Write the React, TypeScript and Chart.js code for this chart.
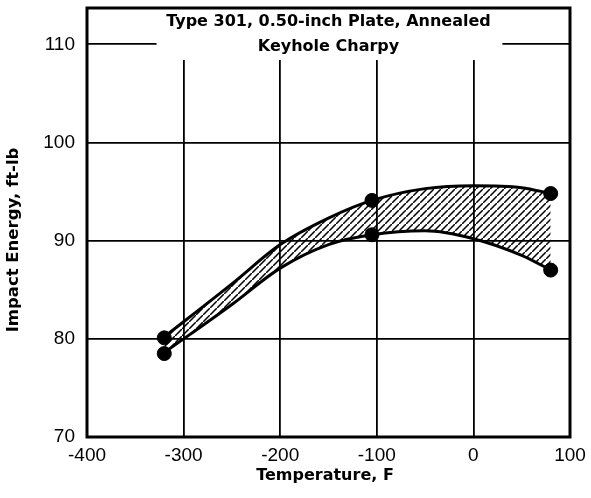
import React, { useEffect, useRef } from "react";
import { Chart, registerables } from "chart.js";

Chart.register(...registerables);

const titleLines = ["Type 301, 0.50-inch Plate, Annealed", "Keyhole Charpy"];
const xAxisTitle = "Temperature, F";
const yAxisTitle = "Impact Energy, ft-lb";

const xTicks = [-400, -300, -200, -100, 0, 100];
const yTicks = [70, 80, 90, 100, 110];

// curve traces
const curveTemps = [-320, -250, -200, -150, -105, -50, 0, 50, 80];
const upperCurve = [80.2, 85.6, 89.6, 92.3, 94.1, 95.3, 95.6, 95.4, 94.8];
const lowerCurve = [78.6, 83.5, 87.2, 89.6, 90.6, 91.0, 90.2, 88.5, 87.0];

// measured points (markers)
const pointTemps = [-320, -105, 80];
const upperPoints = [80.1, 94.1, 94.8];
const lowerPoints = [78.5, 90.6, 87.0];

const FONT = "'Liberation Sans', Arial, sans-serif";
const BOLD = "'DejaVu Sans', 'Liberation Sans', sans-serif";

function makeHatch(): CanvasPattern | string {
  const c = document.createElement("canvas");
  const s = 7;
  c.width = s;
  c.height = s;
  const g = c.getContext("2d");
  if (!g) return "#888";
  g.strokeStyle = "#000";
  g.lineWidth = 1.5;
  g.beginPath();
  g.moveTo(-1, s + 1);
  g.lineTo(s + 1, -1);
  g.moveTo(-2, 1);
  g.lineTo(1, -2);
  g.moveTo(s - 1, s + 2);
  g.lineTo(s + 2, s - 1);
  g.stroke();
  const p = g.createPattern(c, "repeat");
  return p || "#888";
}

export default function App() {
  const ref = useRef<HTMLCanvasElement | null>(null);

  useEffect(() => {
    if (!ref.current) return;
    const hatch = makeHatch();

    const overlay = {
      id: "overlay",
      beforeDatasetsDraw(chart: any) {
        const ctx = chart.ctx;
        const xs = chart.scales.x;
        const ys = chart.scales.y;
        const top = chart.chartArea.top;
        // white title box over the grid
        const bx0 = xs.getPixelForValue(-328);
        const bx1 = xs.getPixelForValue(30);
        const by1 = ys.getPixelForValue(108.4);
        ctx.save();
        ctx.fillStyle = "#fff";
        ctx.fillRect(bx0, top + 1, bx1 - bx0, by1 - top - 1);
        ctx.fillStyle = "#000";
        ctx.textAlign = "center";
        ctx.textBaseline = "middle";
        ctx.font = `bold 16px ${BOLD}`;
        const cx = (chart.chartArea.left + chart.chartArea.right) / 2;
        ctx.fillText(titleLines[0], cx, 22);
        ctx.fillText(titleLines[1], cx, 47);
        ctx.restore();
      },
      afterDraw(chart: any) {
        const ctx = chart.ctx;
        const a = chart.chartArea;
        ctx.save();
        ctx.strokeStyle = "#000";
        ctx.lineWidth = 3;
        ctx.strokeRect(a.left, a.top, a.right - a.left, a.bottom - a.top);
        ctx.fillStyle = "#000";
        ctx.textAlign = "center";
        ctx.textBaseline = "middle";
        ctx.font = `bold 16px ${BOLD}`;
        ctx.fillText(xAxisTitle, 325, 476);
        ctx.translate(14, 240);
        ctx.rotate(-Math.PI / 2);
        ctx.font = `bold 16.5px ${BOLD}`;
        ctx.fillText(yAxisTitle, 0, 0);
        ctx.restore();
      },
    };

    const toXY = (xs: number[], ys: number[]) => xs.map((x, i) => ({ x, y: ys[i] }));

    const chart = new Chart(ref.current, {
      type: "line",
      data: {
        datasets: [
          {
            label: "upper",
            data: toXY(curveTemps, upperCurve),
            borderColor: "#000",
            borderWidth: 3,
            pointRadius: 0,
            cubicInterpolationMode: "monotone",
            fill: false,
          },
          {
            label: "lower",
            data: toXY(curveTemps, lowerCurve),
            borderColor: "#000",
            borderWidth: 3,
            pointRadius: 0,
            cubicInterpolationMode: "monotone",
            fill: { target: 0 },
            backgroundColor: hatch as any,
          },
          {
            type: "scatter",
            label: "upper pts",
            data: toXY(pointTemps, upperPoints),
            pointRadius: 7,
            pointBackgroundColor: "#000",
            pointBorderColor: "#000",
            showLine: false,
          } as any,
          {
            type: "scatter",
            label: "lower pts",
            data: toXY(pointTemps, lowerPoints),
            pointRadius: 7,
            pointBackgroundColor: "#000",
            pointBorderColor: "#000",
            showLine: false,
          } as any,
        ],
      },
      options: {
        animation: false,
        responsive: false,
        layout: { padding: { top: 6, right: 21, left: 0, bottom: 0 } },
        plugins: {
          legend: { display: false },
          tooltip: { enabled: false },
          title: { display: false },
        },
        scales: {
          x: {
            type: "linear",
            min: -400,
            max: 100,
            afterBuildTicks: (s: any) => {
              s.ticks = xTicks.map((v) => ({ value: v }));
            },
            afterFit: (s: any) => {
              s.height = 61;
              s.paddingLeft = 0;
              s.paddingRight = 0;
            },
            ticks: {
              color: "#000",
              padding: 7,
              font: { family: FONT, size: 19 },
              callback: (v: any) => String(v),
              maxRotation: 0,
              autoSkip: false,
            },
            grid: { color: "#000", lineWidth: 1.8, drawTicks: false },
            border: { display: false },
          },
          y: {
            type: "linear",
            min: 70,
            max: 113.7,
            afterBuildTicks: (s: any) => {
              s.ticks = yTicks.map((v) => ({ value: v }));
            },
            afterFit: (s: any) => {
              s.width = 87;
              s.paddingTop = 0;
              s.paddingBottom = 0;
            },
            ticks: {
              color: "#000",
              padding: 12,
              font: { family: FONT, size: 19 },
              callback: (v: any) => String(v),
              autoSkip: false,
            },
            grid: { color: "#000", lineWidth: 1.8, drawTicks: false },
            border: { display: false },
          },
        },
      },
      plugins: [overlay],
    });

    return () => chart.destroy();
  }, []);

  return (
    <div style={{ position: "absolute", left: 0, top: 0, width: 591, height: 498, background: "#fff" }}>
      <canvas ref={ref} width={591} height={498} />
    </div>
  );
}
